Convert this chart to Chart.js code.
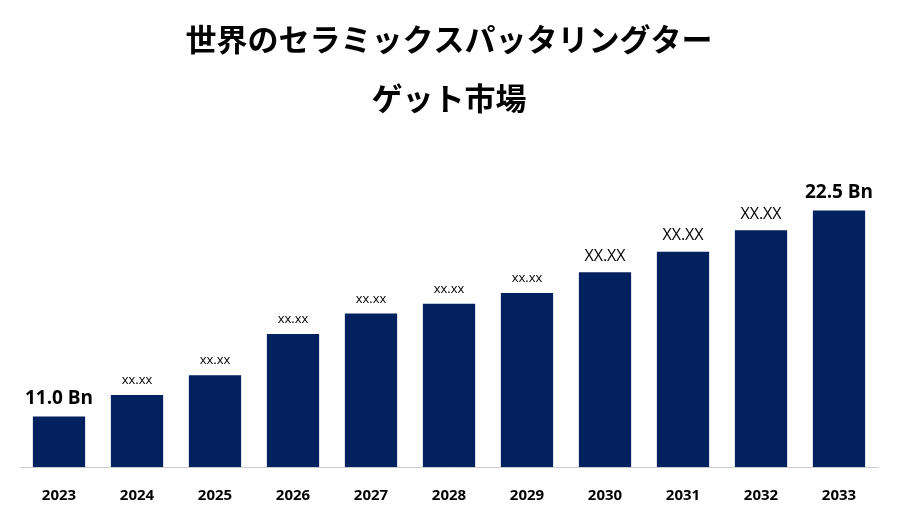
<!DOCTYPE html>
<html>
<head>
<meta charset="utf-8">
<script src="https://cdn.jsdelivr.net/npm/chart.js@4"></script>
<style>
  body { margin: 0; background: #fff; }
  #wrap { width: 900px; height: 525px; }
</style>
</head>
<body>
<div id="wrap"><canvas id="chart"></canvas></div>
<script>
const years = ['2023', '2024', '2025', '2026', '2027', '2028', '2029', '2030', '2031', '2032', '2033'];
const values = [11.0, 12.2, 13.3, 15.6, 16.75, 17.3, 17.9, 19.05, 20.2, 21.4, 22.5];
const labels = ['11.0 Bn', 'xx.xx', 'xx.xx', 'xx.xx', 'xx.xx', 'xx.xx', 'xx.xx', 'XX.XX', 'XX.XX', 'XX.XX', '22.5 Bn'];
const labelSizes = [19, 13, 13, 13, 13, 13, 13, 16, 16, 16, 19];

// draw value labels above the bars
const barLabels = {
    id: 'barLabels',
    afterDatasetsDraw(chart) {
        const ctx = chart.ctx;
        const meta = chart.getDatasetMeta(0);
        ctx.save();
        ctx.fillStyle = '#000';
        ctx.textAlign = 'center';
        ctx.textBaseline = 'bottom';
        meta.data.forEach((bar, i) => {
            const bold = (i === 0 || i === labels.length - 1) ? 'bold ' : '';
            ctx.font = bold + labelSizes[i] + 'px "Open Sans", "Noto Sans", sans-serif';
            ctx.fillText(labels[i], bar.x, bar.y - 8);
        });
        ctx.restore();
    }
};

new Chart(document.getElementById('chart'), {
    type: 'bar',
    data: {
        labels: years,
        datasets: [{
            data: values,
            backgroundColor: '#03215e',
            barPercentage: 0.67,
            categoryPercentage: 1.0
        }]
    },
    options: {
        responsive: true,
        maintainAspectRatio: false,
        animation: false,
        layout: { padding: { left: 20, right: 22, top: 10, bottom: 8 } },
        plugins: {
            legend: { display: false },
            tooltip: { enabled: false },
            title: {
                display: true,
                text: ['世界のセラミックスパッタリングター', 'ゲット市場'],
                color: '#000',
                font: { size: 31, weight: 'bold', family: '"Noto Sans CJK JP", sans-serif', lineHeight: 1.9 },
                padding: { top: 0, bottom: 20 }
            }
        },
        scales: {
            x: {
                grid: { display: false },
                border: { color: '#cccccc', width: 1 },
                ticks: { color: '#000', font: { size: 15, weight: 'bold', family: '"Open Sans", sans-serif' }, padding: 12 }
            },
            y: {
                display: false,
                min: 8.18,
                max: 26.0
            }
        }
    },
    plugins: [barLabels]
});
</script>
</body>
</html>
